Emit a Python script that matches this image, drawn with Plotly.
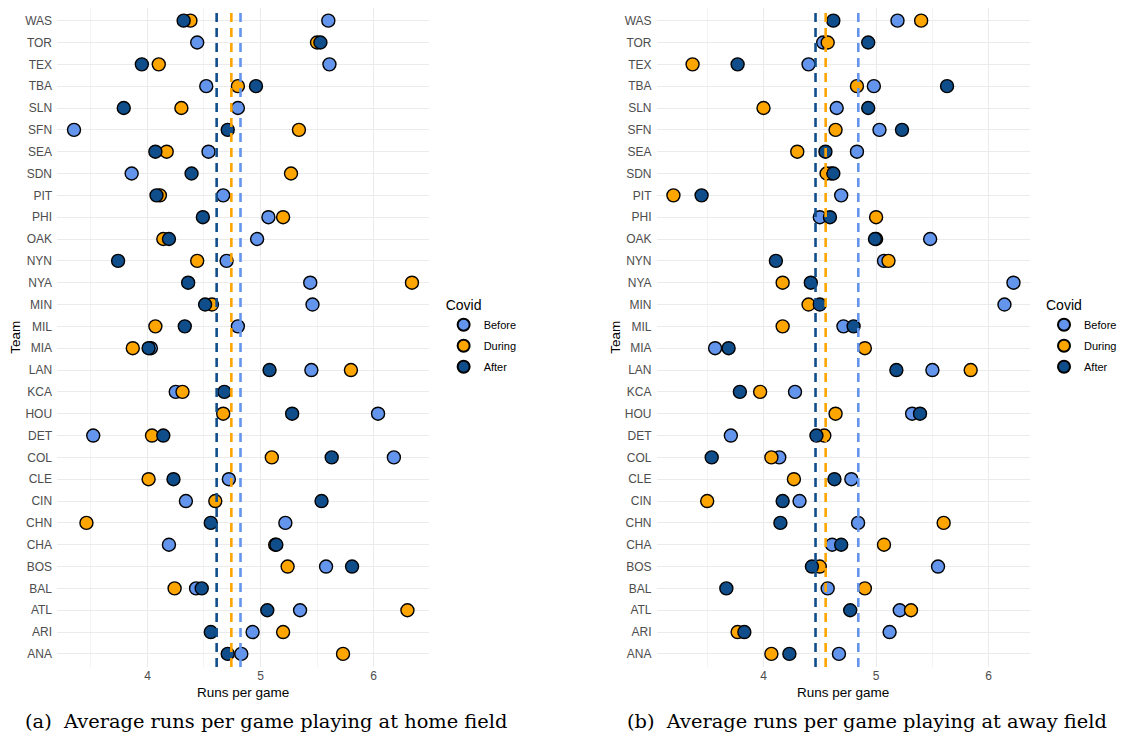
import plotly.graph_objects as go

teams = ["ANA","ARI","ATL","BAL","BOS","CHA","CHN","CIN","CLE","COL","DET","HOU","KCA","LAN","MIA",
         "MIL","MIN","NYA","NYN","OAK","PHI","PIT","SDN","SEA","SFN","SLN","TBA","TEX","TOR","WAS"]

home_before = [4.83,4.93,5.35,4.43,5.58,4.19,5.22,4.34,4.72,6.18,3.52,6.04,4.25,5.45,4.03,
               4.80,5.46,5.44,4.70,4.97,5.07,4.67,3.86,4.54,3.35,4.80,4.52,5.61,4.44,5.60]
home_during = [5.73,5.20,6.30,4.24,5.24,5.13,3.46,4.60,4.01,5.10,4.04,4.67,4.31,5.80,3.87,
               4.07,4.57,6.34,4.44,4.14,5.20,4.11,5.27,4.17,5.34,4.30,4.80,4.10,5.50,4.38]
home_after  = [4.71,4.56,5.06,4.48,5.81,5.14,4.56,5.54,4.23,5.63,4.14,5.28,4.68,5.08,4.01,
               4.33,4.51,4.36,3.74,4.19,4.49,4.08,4.39,4.07,4.71,3.79,4.96,3.95,5.53,4.32]

away_before = [4.67,5.12,5.21,4.57,5.55,4.61,4.84,4.32,4.78,4.14,3.71,5.32,4.28,5.50,3.57,
               4.71,6.14,6.22,5.07,5.48,4.50,4.69,4.60,4.83,5.03,4.65,4.98,4.40,4.53,5.19]
away_during = [4.07,3.77,5.31,4.90,4.50,5.07,5.60,3.50,4.27,4.07,4.54,4.64,3.97,5.84,4.90,
               4.17,4.40,4.17,5.11,5.00,5.00,3.20,4.56,4.30,4.64,4.00,4.83,3.37,4.57,5.40]
away_after  = [4.23,3.83,4.77,3.67,4.43,4.69,4.15,4.17,4.63,3.54,4.47,5.39,3.79,5.18,3.69,
               4.80,4.50,4.42,4.11,4.99,4.59,3.45,4.62,4.55,5.23,4.93,5.63,3.77,4.93,4.62]

home_means = {"Before": 4.823, "During": 4.742, "After": 4.612}
away_means = {"Before": 4.842, "During": 4.552, "After": 4.462}

x_ticks = [4, 5, 6]
x_minor = [3.5, 4.5, 5.5, 6.5]
periods = ["Before", "During", "After"]
colors = {"Before": "#6495ED", "During": "#FFA500", "After": "#104E8B"}
captions = ["(a)  Average runs per game playing at home field",
            "(b)  Average runs per game playing at away field"]

home = {"Before": home_before, "During": home_during, "After": home_after}
away = {"Before": away_before, "During": away_during, "After": away_after}

# page body has an 8px margin; figure is sized to fill the window exactly
OFF = 8
W, H = 1114, 730
def px(x):
    return min(1.0, max(0.0, (x - OFF) / W))
def py(y):
    return min(1.0, max(0.0, 1 - (y - OFF) / H))

fig = go.Figure()
panels = [
    dict(key="home", data=home, means=home_means, xa="x", ya="y", leg="legend",
         dom=[px(58), px(437)], rng=[3.20, 6.49], team_x=15.5),
    dict(key="away", data=away, means=away_means, xa="x2", ya="y2", leg="legend2",
         dom=[px(669), px(1050)], rng=[3.05, 6.37], team_x=627),
]

ydom = [py(667), py(8)]

for i, p in enumerate(panels):
    for per in periods:
        fig.add_trace(go.Scatter(
            x=p["data"][per], y=teams, mode="markers", name=per,
            xaxis=p["xa"], yaxis=p["ya"], legend=p["leg"],
            legendgroup=p["key"] + per,
            marker=dict(color=colors[per], size=13, line=dict(color="black", width=1.4)),
            cliponaxis=False,
        ))
    for per in ["After", "During", "Before"]:
        fig.add_shape(type="line", xref=p["xa"], yref=p["ya"] + " domain",
                      x0=p["means"][per], x1=p["means"][per], y0=0, y1=1,
                      line=dict(color=colors[per], width=2.6, dash="9px,6px"), layer="above")

axis_common = dict(showline=False, zeroline=False, ticks="",
                   gridcolor="#EBEBEB", gridwidth=1.1,
                   tickfont=dict(family="Liberation Sans, Arial", size=12, color="#4D4D4D"))
minor = dict(tickvals=x_minor, showgrid=True, gridcolor="#F4F4F4", gridwidth=0.6)

legend_common = dict(xanchor="left", yanchor="top",
                     title=dict(text="Covid", font=dict(size=14, color="black")),
                     font=dict(family="Liberation Sans, Arial", size=11, color="black"),
                     bgcolor="rgba(0,0,0,0)", itemsizing="constant", tracegroupgap=2)

fig.update_layout(
    width=W, height=H, plot_bgcolor="white", paper_bgcolor="white",
    margin=dict(l=0, r=0, t=0, b=0),
    xaxis=dict(domain=panels[0]["dom"], range=panels[0]["rng"], anchor="y",
               tickvals=x_ticks, minor=minor, **axis_common),
    yaxis=dict(domain=ydom, anchor="x", type="category", categoryorder="array",
               categoryarray=teams, range=[-0.6, 29.58], ticklabelstandoff=4, **axis_common),
    xaxis2=dict(domain=panels[1]["dom"], range=panels[1]["rng"], anchor="y2",
                tickvals=x_ticks, minor=minor, **axis_common),
    yaxis2=dict(domain=ydom, anchor="x2", type="category", categoryorder="array",
                categoryarray=teams, range=[-0.6, 29.58], ticklabelstandoff=4, **axis_common),
    legend=dict(x=px(452), y=py(292), **legend_common),
    legend2=dict(x=px(1064), y=py(292), **legend_common),
    font=dict(family="Liberation Sans, Arial"),
    showlegend=True,
)

ann = []
for p in panels:
    cx = (p["dom"][0] + p["dom"][1]) / 2
    ann.append(dict(text="Runs per game", x=cx, y=py(692), xref="paper", yref="paper",
                    showarrow=False, font=dict(size=13.5, color="black"), xanchor="center", yanchor="middle"))
    ann.append(dict(text="Team", x=px(p["team_x"]), y=(ydom[0] + ydom[1]) / 2,
                    xref="paper", yref="paper", showarrow=False, textangle=-90,
                    font=dict(size=13.5, color="black"), xanchor="center", yanchor="middle"))
for cap, cx in zip(captions, [271, 883]):
    ann.append(dict(text=cap, x=px(cx), y=py(721), xref="paper", yref="paper", showarrow=False,
                    font=dict(family="DejaVu Serif, serif", size=19.4, color="black"),
                    xanchor="center", yanchor="middle"))
fig.update_layout(annotations=ann)

fig.write_html("out.html")
